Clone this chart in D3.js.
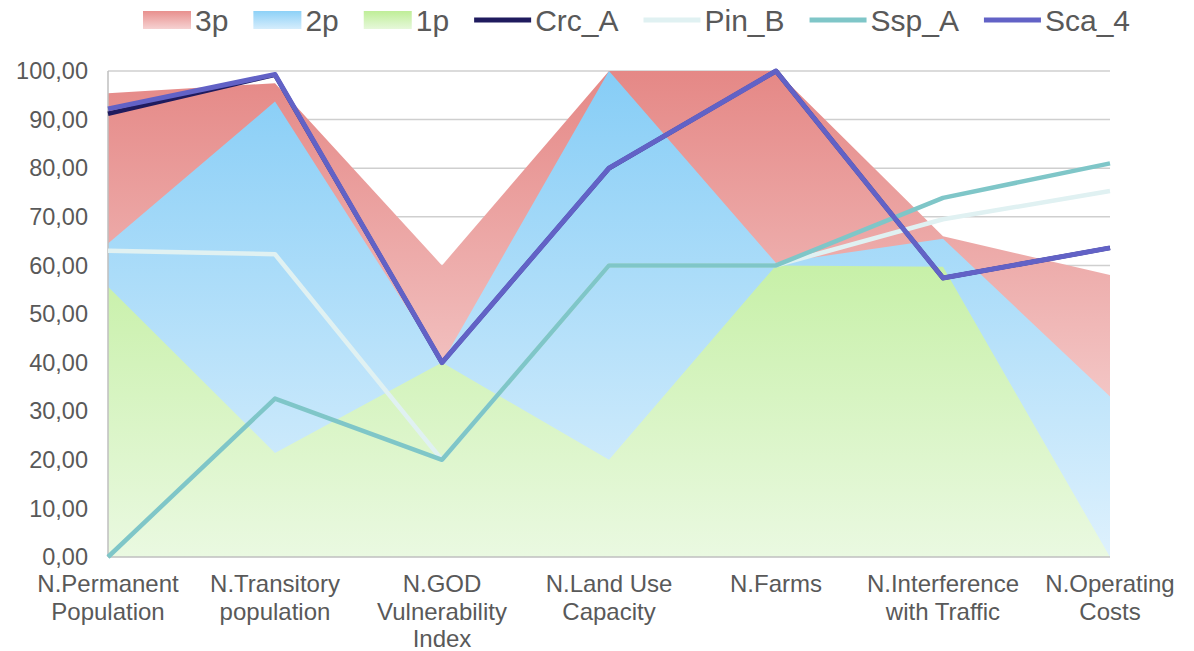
<!DOCTYPE html>
<html>
<head>
<meta charset="utf-8">
<script src="https://cdn.jsdelivr.net/npm/d3@7/dist/d3.min.js"></script>
<style>
  html, body { margin: 0; padding: 0; background: #fff; }
  svg { display: block; }
  text { font-family: "Liberation Sans", Arial, sans-serif; fill: #595959; }
</style>
</head>
<body>
<svg id="chart" width="1194" height="651"></svg>
<script>
// Criteria (x axis)
const categories = [
  ["N.Permanent", "Population"],
  ["N.Transitory", "population"],
  ["N.GOD", "Vulnerability", "Index"],
  ["N.Land Use", "Capacity"],
  ["N.Farms"],
  ["N.Interference", "with Traffic"],
  ["N.Operating", "Costs"]
];

// Area series (overlapping, not stacked)
const area3p = [95.4, 97.5, 60, 100, 100, 66, 58];
const area2p = [64.5, 93.7, 40, 100, 60.5, 65.5, 33];
const area1p = [55.6, 21.4, 40, 20, 60, 59.7, 0];

// Line series
const lineCrcA = [91.2, 99.2, 40, 80, 100, 57.4, 63.6];
const linePinB = [63, 62.3, 20, 60, 60, 69.5, 75.3];
const lineSspA = [0, 32.6, 20, 60, 60, 73.9, 81];
const lineSca4 = [92.2, 99.3, 40, 80, 100, 57.4, 63.6];

// Y axis ticks
const yTicks = [0, 10, 20, 30, 40, 50, 60, 70, 80, 90, 100];

const svg = d3.select("#chart");
const plotL = 108, plotR = 1110, plotT = 71, plotB = 557;

const x = d3.scalePoint().domain(d3.range(categories.length)).range([plotL, plotR]);
const y = d3.scaleLinear().domain([0, 100]).range([plotB, plotT]);

// Vertical gradients spanning the plot height
const defs = svg.append("defs");
function grad(id, stops) {
  const g = defs.append("linearGradient").attr("id", id)
    .attr("gradientUnits", "userSpaceOnUse")
    .attr("x1", 0).attr("x2", 0).attr("y1", y(100)).attr("y2", y(0));
  stops.forEach(([o, c]) => g.append("stop").attr("offset", o).attr("stop-color", c));
}
grad("g3p", [[0, "#e58886"], [1, "#fae4e4"]]);
grad("g2p", [[0, "#86cdf6"], [1, "#def1fd"]]);
grad("g1p", [[0, "#b0ea82"], [1, "#eaf9e1"]]);

// Gridlines
svg.append("g").selectAll("line").data(yTicks.filter(d => d > 0)).join("line")
  .attr("x1", plotL).attr("x2", plotR)
  .attr("y1", d => y(d)).attr("y2", d => y(d))
  .attr("stroke", "#cfcfcf").attr("stroke-width", 1.5);

// Areas
const areaGen = d3.area().x((d, i) => x(i)).y0(y(0)).y1(d => y(d));
const areas = [
  { values: area3p, fill: "url(#g3p)" },
  { values: area2p, fill: "url(#g2p)" },
  { values: area1p, fill: "url(#g1p)" }
];
svg.append("g").selectAll("path").data(areas).join("path")
  .attr("d", d => areaGen(d.values))
  .attr("fill", d => d.fill);

// Axis lines
svg.append("line").attr("x1", plotL).attr("x2", plotL).attr("y1", plotT).attr("y2", plotB)
  .attr("stroke", "#bfbfbf").attr("stroke-width", 1.5);
svg.append("line").attr("x1", plotL).attr("x2", plotR).attr("y1", plotB).attr("y2", plotB)
  .attr("stroke", "#bfbfbf").attr("stroke-width", 1.5);

// Lines
const lineGen = d3.line().x((d, i) => x(i)).y(d => y(d));
const lines = [
  { name: "Crc_A", values: lineCrcA, color: "#1f1b5e", width: 4.5 },
  { name: "Pin_B", values: linePinB, color: "#e0f1f2", width: 4.5 },
  { name: "Ssp_A", values: lineSspA, color: "#7fc6c8", width: 4.5 },
  { name: "Sca_4", values: lineSca4, color: "#6262c6", width: 5 }
];
svg.append("g").selectAll("path").data(lines).join("path")
  .attr("d", d => lineGen(d.values))
  .attr("fill", "none")
  .attr("stroke", d => d.color)
  .attr("stroke-width", d => d.width)
  .attr("stroke-linejoin", "round");

// Y tick labels
const fmt = v => d3.format(".2f")(v).replace(".", ",");
svg.append("g").selectAll("text").data(yTicks).join("text")
  .attr("x", 88).attr("y", d => y(d))
  .attr("dy", "0.35em")
  .attr("text-anchor", "end")
  .attr("font-size", 23.5)
  .text(fmt);

// Category labels
const cat = svg.append("g").selectAll("text").data(categories).join("text")
  .attr("text-anchor", "middle")
  .attr("font-size", 24);
cat.selectAll("tspan").data((d, i) => d.map(s => ({ s, i }))).join("tspan")
  .attr("x", d => x(d.i))
  .attr("y", (d, j) => 592 + j * 27.5)
  .text(d => d.s);

// Legend
function lgrad(id, c1, c2) {
  const g = defs.append("linearGradient").attr("id", id)
    .attr("x1", 0).attr("x2", 0).attr("y1", 0).attr("y2", 1);
  g.append("stop").attr("offset", 0).attr("stop-color", c1);
  g.append("stop").attr("offset", 1).attr("stop-color", c2);
}
lgrad("lg3p", "#e8908e", "#f6d2d2");
lgrad("lg2p", "#8dd1f7", "#d6edfc");
lgrad("lg1p", "#bfee98", "#e6f8da");

const legendItems = [
  { name: "3p", type: "area", fill: "url(#lg3p)" },
  { name: "2p", type: "area", fill: "url(#lg2p)" },
  { name: "1p", type: "area", fill: "url(#lg1p)" },
  ...lines.map(l => ({ name: l.name, type: "line", color: l.color }))
];

const legend = svg.append("g");
const ly = 20;
let lx = 143;
legendItems.forEach(item => {
  const g = legend.append("g");
  const sw = item.type === "area" ? 48 : 57;
  if (item.type === "area") {
    g.append("rect").attr("x", lx).attr("y", ly - 9).attr("width", sw).attr("height", 18)
      .attr("fill", item.fill);
  } else {
    g.append("line").attr("x1", lx).attr("x2", lx + sw).attr("y1", ly).attr("y2", ly)
      .attr("stroke", item.color).attr("stroke-width", 5);
  }
  const t = g.append("text").attr("x", lx + sw + 4).attr("y", ly).attr("dy", "0.36em")
    .attr("font-size", 30).text(item.name);
  lx += sw + 4 + t.node().getComputedTextLength() + 25;
});
</script>
</body>
</html>
